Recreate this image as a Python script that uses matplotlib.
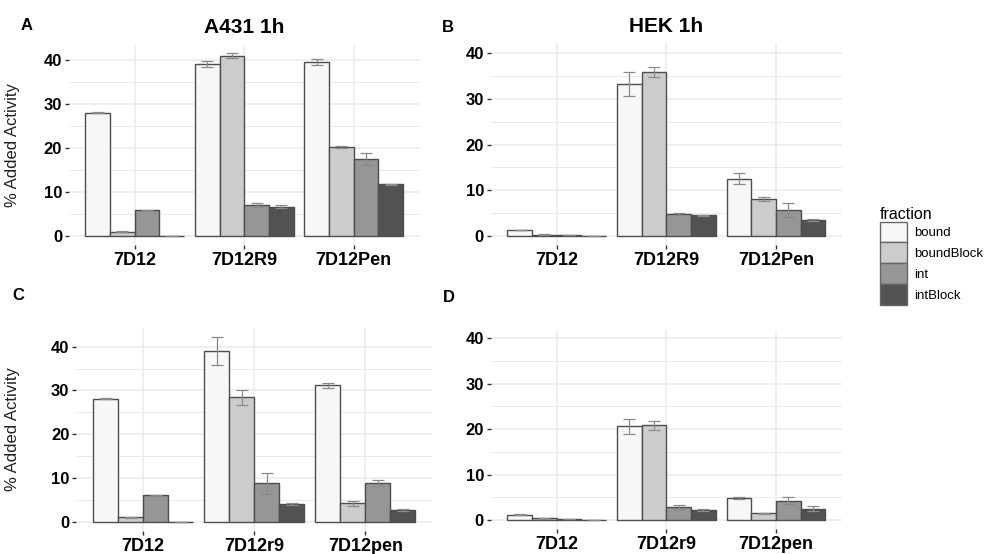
import matplotlib.pyplot as plt
from matplotlib.patches import Patch
import numpy as np

plt.rcParams['font.family'] = ['Liberation Sans', 'DejaVu Sans']

fractions = ['bound', 'boundBlock', 'int', 'intBlock']
fill_colors = ['#F7F7F7', '#CCCCCC', '#969696', '#525252']

groups_top = ['7D12', '7D12R9', '7D12Pen']
groups_bottom = ['7D12', '7D12r9', '7D12pen']

# A431 1h  (rows = fraction, cols = group)
a_mean = [[28.1, 39.2, 39.6], [1.0, 41.1, 20.3], [5.9, 7.1, 17.5], [0.05, 6.7, 11.8]]
a_err = [[0.15, 0.7, 0.7], [0.1, 0.5, 0.3], [0.1, 0.4, 1.3], [0.0, 0.3, 0.1]]

# HEK 1h
b_mean = [[1.3, 33.3, 12.5], [0.3, 35.9, 8.1], [0.2, 4.8, 5.7], [0.05, 4.5, 3.5]]
b_err = [[0.1, 2.7, 1.2], [0.05, 1.1, 0.4], [0.05, 0.3, 1.5], [0.0, 0.15, 0.3]]

# C
c_mean = [[28.1, 39.0, 31.2], [1.0, 28.4, 4.2], [6.0, 8.8, 8.8], [0.05, 4.0, 2.7]]
c_err = [[0.15, 3.2, 0.6], [0.1, 1.7, 0.5], [0.1, 2.4, 0.7], [0.0, 0.2, 0.15]]

# D
d_mean = [[1.2, 20.6, 4.85], [0.35, 20.9, 1.5], [0.15, 2.85, 4.25], [0.05, 2.2, 2.5]]
d_err = [[0.05, 1.6, 0.3], [0.05, 1.0, 0.1], [0.02, 0.4, 0.8], [0.0, 0.15, 0.6]]

W, H = 986, 554
fig = plt.figure(figsize=(W / 100, H / 100), dpi=100)


def panel(box, ylim, means, errs, groups, title=None, ylabel=False):
    left, right, top, bottom = box
    ax = fig.add_axes([left / W, 1 - bottom / H, (right - left) / W, (bottom - top) / H])
    x = np.arange(1, len(groups) + 1)
    bw = 0.9 / len(fractions)
    for j, frac in enumerate(fractions):
        pos = x + (j - 1.5) * bw
        ax.bar(pos, means[j], width=bw, color=fill_colors[j], edgecolor='#4d4d4d',
               linewidth=1.0, zorder=3)
        ax.errorbar(pos, means[j], yerr=errs[j], fmt='none', ecolor='#8a8a8a',
                    elinewidth=0.9, capsize=4.6, capthick=0.9, zorder=4)
    ax.set_xlim(0.4, 3.6)
    ax.set_ylim(*ylim)
    ax.set_xticks(x)
    ax.set_xticklabels(groups, fontsize=13, fontweight='bold')
    ax.set_yticks([0, 10, 20, 30, 40])
    ax.set_yticklabels(['0', '10', '20', '30', '40'], fontsize=12, fontweight='bold')
    ax.set_yticks([5, 15, 25, 35], minor=True)
    ax.grid(True, which='major', color='#EBEBEB', linewidth=1.1, zorder=0)
    ax.grid(True, which='minor', axis='y', color='#EBEBEB', linewidth=0.7, zorder=0)
    ax.tick_params(axis='both', which='major', length=3, width=1, color='#333333', pad=2)
    ax.tick_params(axis='y', which='minor', length=0)
    for s in ax.spines.values():
        s.set_visible(False)
    if title:
        ax.set_title(title, fontsize=15, fontweight='bold', pad=8)
    if ylabel:
        ax.set_ylabel('% Added Activity', fontsize=12, color='#222222')
        ax.yaxis.set_label_coords(20.5 / W, 1 - ((top + bottom) / 2) / H,
                                  transform=fig.transFigure)
    return ax


panel((69, 419.5, 44.6, 245.1), (-2.07, 43.6), a_mean, a_err, groups_top, 'A431 1h', True)
panel((490.9, 841.8, 43.3, 245.1), (-2.0, 42.2), b_mean, b_err, groups_top, 'HEK 1h')
panel((76.4, 432, 327.5, 531), (-2.12, 44.4), c_mean, c_err, groups_bottom, None, True)
panel((490.9, 841.8, 330.2, 529.1), (-2.0, 41.8), d_mean, d_err, groups_bottom)

for letter, (lx, ly) in zip('ABCD', [(27, 25), (448, 28), (18, 295), (449, 298)]):
    fig.text(lx / W, 1 - ly / H, letter, fontsize=12, fontweight='bold',
             ha='center', va='center')

handles = [Patch(facecolor=c, edgecolor='#666666', linewidth=1.0) for c in fill_colors]
fig.legend(handles, fractions, title='fraction', loc='upper left',
           bbox_to_anchor=(873 / W, 1 - 200 / H), frameon=False, fontsize=9.5,
           title_fontsize=11.5, handlelength=2.05, handleheight=2.05,
           labelspacing=0.0, handletextpad=0.6, borderpad=0, alignment='left')

fig.savefig('out.png', dpi=100)
